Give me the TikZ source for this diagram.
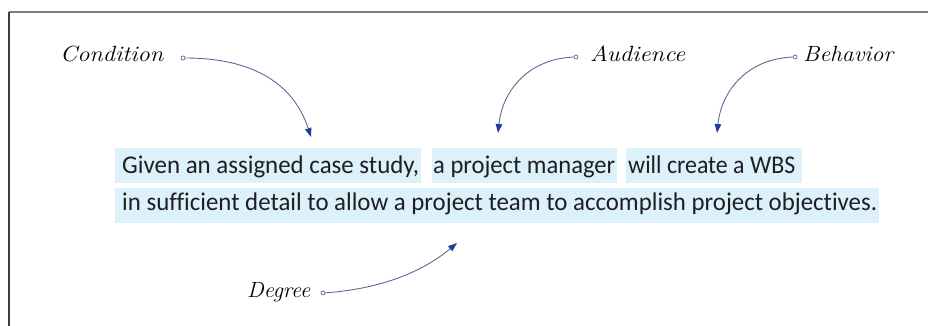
\documentclass[tikz,border=0pt]{standalone}
\usepackage{fontspec}
\newfontfamily\bodyfont[Ligatures=NoCommon]{Carlito}
\usetikzlibrary{arrows.meta}
\definecolor{hl}{RGB}{221,241,251}
\definecolor{txt}{RGB}{30,30,35}
\definecolor{wire}{RGB}{95,105,150}
\definecolor{tipc}{RGB}{40,60,150}
\definecolor{frameg}{RGB}{125,125,125}
\definecolor{framed}{RGB}{60,60,60}
\tikzset{
  body/.style={anchor=base west, inner sep=0pt, text=txt, font=\bodyfont\fontsize{25.5}{30}\selectfont},
  hand/.style={anchor=base west, inner sep=0pt, text=black, font=\itshape\fontsize{22}{26}\selectfont},
  dot/.style={circle, draw=wire, fill=white, inner sep=0pt, minimum size=4pt, line width=0.7pt},
  wirearrow/.style={draw=wire, line width=0.9pt, -{Triangle[length=9pt,width=6.5pt,color=tipc]}},
  hlbox/.style={fill=hl}
}
\begin{document}
\begin{tikzpicture}[x=1pt,y=-1pt]
\useasboundingbox (0,0) rectangle (928,326);
% frame
\draw[frameg, line width=1.6pt] (9,12) -- (928,12);
\draw[framed, line width=1.4pt] (9,12) -- (9,326);
% highlights
\fill[hlbox] (115,148) rectangle (421,183);
\fill[hlbox] (432,148) rectangle (617,183);
\fill[hlbox] (626,148) rectangle (802,183);
\fill[hlbox] (115,188) rectangle (879,223);
% sentence
\node[body] (t1) at (122,173) {\resizebox{297pt}{\height}{Given an assigned case study,}};
\node[body] (t2) at (433,173) {\resizebox{182pt}{\height}{a project manager}};
\node[body] (t3) at (628,173) {\resizebox{167pt}{\height}{will create a WBS}};
\node[body] (t4) at (122,210) {\resizebox{755pt}{\height}{in sufficient detail to allow a project team to accomplish project objectives.}};
% labels
\node[hand] (lc) at (60,62) {\resizebox{103pt}{\height}{Condition}};
\node[hand] (la) at (590,62) {\resizebox{95pt}{\height}{Audience}};
\node[hand] (lb) at (803,62) {\resizebox{90pt}{\height}{Behavior}};
\node[hand] (ld) at (247,297) {\resizebox{63pt}{\height}{Degree}};
% dots
\node[dot] (dc) at (183,58) {};
\node[dot] (da) at (576,57) {};
\node[dot] (db) at (795,57) {};
\node[dot] (dd) at (323,293) {};
% arrow targets
\coordinate (tc) at (311,137);
\coordinate (ta) at (498,133);
\coordinate (tb) at (717,133);
\coordinate (td) at (457,243);
% connectors
\draw[wirearrow] (dc) to[out=0,in=108,looseness=1.05] (tc);
\draw[wirearrow] (da) to[out=182,in=84,looseness=1.05] (ta);
\draw[wirearrow] (db) to[out=182,in=84,looseness=1.05] (tb);
\draw[wirearrow] (dd) to[out=4,in=220,looseness=0.9] (td);
\end{tikzpicture}
\end{document}
